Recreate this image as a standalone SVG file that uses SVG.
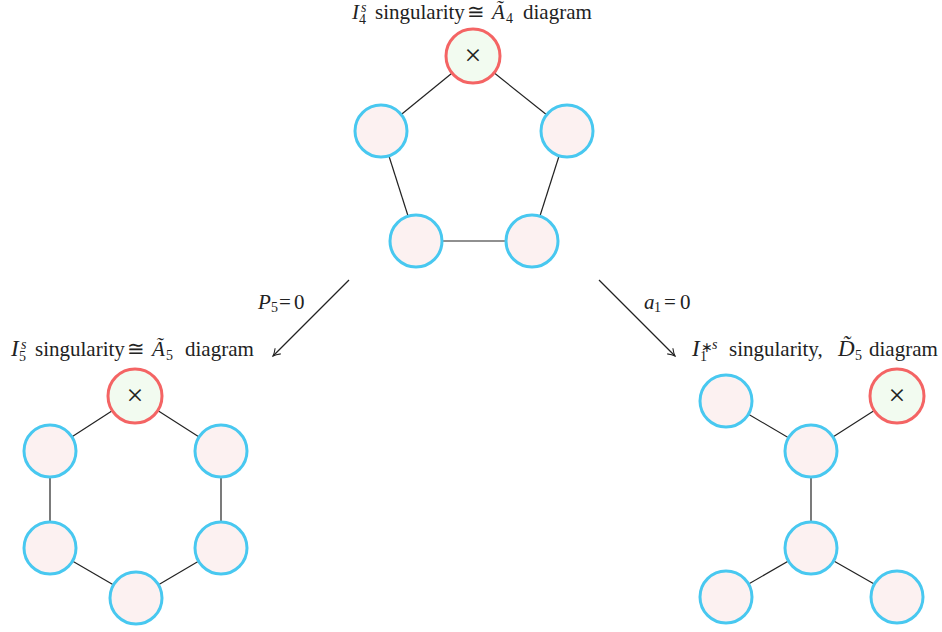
<svg xmlns="http://www.w3.org/2000/svg" width="942" height="632" viewBox="0 0 942 632">
<style>
.n{fill:#fcf1f1;stroke:#48c8f0;stroke-width:3}
.x{fill:#f2fbf0;stroke:#f46464;stroke-width:3}
.e{stroke:#222;stroke-width:1.2;fill:none}
.t{font-family:"Liberation Serif","Times New Roman",serif;font-size:21px;fill:#222}
.s{font-size:14px}
.i{font-style:italic}
.L{font-size:23px}
.c{font-family:"Liberation Serif",serif;font-size:30px;fill:#222}
</style>
<defs>
<marker id="ah" markerWidth="10" markerHeight="10" refX="8" refY="5" orient="auto" markerUnits="userSpaceOnUse">
<path d="M1,1 Q5,4 8,5 Q5,6 1,9" fill="none" stroke="#222" stroke-width="1.1"/>
</marker>
</defs>
<g id="edges">
<line class="e" x1="473" y1="56" x2="381" y2="131"/>
<line class="e" x1="473" y1="56" x2="567" y2="131"/>
<line class="e" x1="381" y1="131" x2="416" y2="241"/>
<line class="e" x1="567" y1="131" x2="532" y2="241"/>
<line class="e" x1="416" y1="241" x2="532" y2="241"/>
<line class="e" x1="135" y1="396" x2="50" y2="451"/>
<line class="e" x1="135" y1="396" x2="221" y2="451"/>
<line class="e" x1="50" y1="451" x2="50" y2="548"/>
<line class="e" x1="221" y1="451" x2="221" y2="548"/>
<line class="e" x1="50" y1="548" x2="136" y2="598"/>
<line class="e" x1="221" y1="548" x2="136" y2="598"/>
<line class="e" x1="726" y1="401" x2="811" y2="451"/>
<line class="e" x1="897" y1="396" x2="811" y2="451"/>
<line class="e" x1="811" y1="451" x2="811" y2="548"/>
<line class="e" x1="811" y1="548" x2="726" y2="597"/>
<line class="e" x1="811" y1="548" x2="897" y2="597"/>
<line class="e" x1="349" y1="280" x2="273" y2="356" marker-end="url(#ah)"/>
<line class="e" x1="599" y1="280" x2="675" y2="356" marker-end="url(#ah)"/>
</g>
<g id="labels">
<text class="t"><tspan class="i" x="352" y="19">I</tspan><tspan class="s i" x="361" y="12">s</tspan><tspan class="s" x="359" y="24">4</tspan><tspan x="375" y="19">singularity</tspan><tspan x="467" y="19">≅</tspan><tspan class="i" x="492" y="19">Ã</tspan><tspan class="s" x="506" y="23">4</tspan><tspan x="523" y="19">diagram</tspan></text>
<text class="t"><tspan class="i L" x="11" y="356">I</tspan><tspan class="s i" x="21" y="349">s</tspan><tspan class="s" x="19" y="361">5</tspan><tspan x="35" y="356">singularity</tspan><tspan x="127" y="356">≅</tspan><tspan class="i" x="152" y="356">Ã</tspan><tspan class="s" x="166" y="360">5</tspan><tspan x="185" y="356">diagram</tspan></text>
<text class="t"><tspan class="i L" x="692" y="356">I</tspan><tspan class="s" x="701" y="352">∗</tspan><tspan class="s i" x="712" y="349">s</tspan><tspan class="s" x="700" y="361">1</tspan><tspan x="729" y="356">singularity,</tspan><tspan class="i L" x="838" y="356">D̃</tspan><tspan class="s" x="855" y="360">5</tspan><tspan x="869" y="356">diagram</tspan></text>
<text class="t"><tspan class="i" x="258" y="309">P</tspan><tspan class="s" x="271" y="312">5</tspan><tspan x="279" y="309">=</tspan><tspan x="294" y="309">0</tspan></text>
<text class="t"><tspan class="i" x="644" y="309">a</tspan><tspan class="s" x="654" y="312">1</tspan><tspan x="664" y="309">=</tspan><tspan x="680" y="309">0</tspan></text>
</g>
<g id="p1"><circle class="x" cx="473" cy="56" r="27"/><text class="c" x="473" y="65" text-anchor="middle">×</text></g>
<g id="p2"><circle class="n" cx="381" cy="131" r="26"/></g>
<g id="p3"><circle class="n" cx="567" cy="131" r="26"/></g>
<g id="p4"><circle class="n" cx="416" cy="241" r="26"/></g>
<g id="p5"><circle class="n" cx="532" cy="241" r="26"/></g>
<g id="h1"><circle class="x" cx="135" cy="396" r="27"/><text class="c" x="135" y="405" text-anchor="middle">×</text></g>
<g id="h2"><circle class="n" cx="50" cy="451" r="26"/></g>
<g id="h3"><circle class="n" cx="221" cy="451" r="26"/></g>
<g id="h4"><circle class="n" cx="50" cy="548" r="26"/></g>
<g id="h5"><circle class="n" cx="221" cy="548" r="26"/></g>
<g id="h6"><circle class="n" cx="136" cy="598" r="26"/></g>
<g id="d1"><circle class="n" cx="726" cy="401" r="26"/></g>
<g id="d2"><circle class="x" cx="897" cy="396" r="27"/><text class="c" x="897" y="405" text-anchor="middle">×</text></g>
<g id="d3"><circle class="n" cx="811" cy="451" r="26"/></g>
<g id="d4"><circle class="n" cx="811" cy="548" r="26"/></g>
<g id="d5"><circle class="n" cx="726" cy="597" r="26"/></g>
<g id="d6"><circle class="n" cx="897" cy="597" r="26"/></g>
</svg>
